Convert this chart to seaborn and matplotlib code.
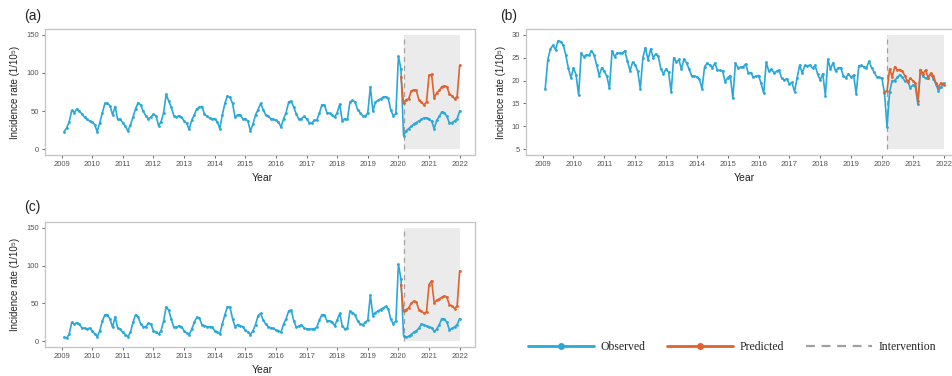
import numpy as np
import pandas as pd
import matplotlib
matplotlib.use("Agg")
import matplotlib.pyplot as plt
from matplotlib.lines import Line2D
import seaborn as sns

# ------------------------------------------------------
# DATA (monthly, Jan 2009 - Dec 2021)
years = list(range(2009, 2022))
months = [y + m / 12 for y in years for m in range(1, 13)]
pred_start = 2020  # predicted series starts in Jan 2020
intervention = 2020 + 2 / 12
xtick_years = list(range(2009, 2023))

obs_a = [23, 28, 36, 51, 48, 53, 50, 46, 42, 39, 37, 36,
         32, 23, 35, 48, 60, 60, 57, 45, 56, 39, 39, 35,
         30, 24, 32, 42, 53, 61, 58, 50, 44, 40, 42, 46,
         44, 31, 36, 48, 72, 63, 55, 44, 42, 44, 42, 37,
         34, 26, 38, 45, 53, 55, 56, 46, 43, 41, 40, 40,
         36, 27, 45, 60, 70, 68, 60, 42, 45, 45, 40, 40,
         37, 24, 33, 45, 52, 60, 52, 45, 43, 40, 39, 38,
         36, 29, 40, 48, 62, 63, 55, 46, 39, 40, 43, 40,
         35, 34, 38, 38, 47, 58, 58, 48, 47, 45, 42, 48,
         59, 37, 40, 39, 62, 64, 62, 52, 48, 44, 43, 48,
         82, 50, 62, 64, 66, 68, 69, 67, 51, 44, 47, 122,
         105, 18, 24, 27, 30, 33, 35, 37, 39, 41, 41, 39,
         37, 27, 38, 43, 49, 48, 43, 34, 35, 37, 40, 50]
pred_a = [95, 60, 65, 66, 76, 78, 77, 65, 62, 58, 62, 97,
          98, 67, 74, 77, 82, 83, 82, 72, 70, 66, 69, 110]

obs_b = [18.2, 24.5, 26.9, 27.7, 26.7, 28.7, 28.5, 27.8, 25.6, 22.7, 20.6, 22.8,
         21.2, 16.8, 26.0, 25.2, 25.6, 25.5, 26.5, 25.6, 23.4, 21.1, 22.8, 22.0,
         20.9, 18.3, 26.5, 25.2, 26.0, 26.0, 26.0, 26.5, 24.2, 22.1, 24.0, 23.4,
         22.0, 18.2, 25.0, 27.2, 24.5, 26.9, 25.0, 25.8, 25.3, 22.5, 21.5, 22.5,
         21.8, 17.5, 25.0, 24.0, 24.6, 22.5, 24.7, 23.8, 22.5, 21.0, 21.0, 20.8,
         20.3, 18.2, 23.0, 23.8, 23.4, 22.8, 23.8, 22.3, 22.2, 22.1, 19.7, 20.6,
         21.1, 16.1, 23.8, 22.8, 22.9, 23.0, 23.6, 21.7, 21.7, 20.7, 20.9, 21.1,
         19.4, 17.2, 24.0, 22.0, 22.5, 21.7, 22.0, 22.3, 20.5, 20.1, 20.4, 19.2,
         19.6, 17.6, 20.5, 23.4, 21.6, 23.3, 23.1, 23.4, 22.7, 23.3, 21.4, 20.1,
         21.5, 16.7, 24.6, 22.5, 23.9, 22.0, 22.8, 22.8, 21.0, 20.6, 21.5, 20.7,
         21.2, 17.1, 23.2, 23.3, 23.0, 22.8, 24.2, 22.8, 21.8, 20.8, 20.7, 20.5,
         17.3, 9.9, 17.5, 20.0, 20.0, 20.7, 21.3, 20.7, 19.8, 20.0, 18.4, 19.0,
         18.8, 14.8, 22.3, 20.9, 20.5, 20.6, 21.4, 20.4, 19.2, 17.8, 18.6, 19.4]
pred_b = [17.5, 17.8, 22.5, 20.8, 23.0, 22.3, 22.4, 22.0, 21.0, 19.6, 20.5, 20.0,
          19.4, 15.6, 22.4, 21.5, 22.3, 20.6, 21.6, 21.1, 19.5, 18.6, 19.5, 19.0]

obs_c = [5.3, 4.4, 9.6, 25, 22.8, 24.6, 22.8, 17.5, 17.5, 16.2, 17.5, 14,
         9.6, 6.1, 14, 27, 35, 35, 29.4, 18.4, 32.5, 17.5, 16.2, 11.8,
         8.8, 6.1, 11.8, 25, 35, 32.5, 22.8, 19.3, 19.3, 23.7, 22.8, 14,
         12, 9.6, 14, 27, 45.6, 41, 29, 18.4, 18.4, 20.6, 19.3, 14,
         11, 8.8, 16, 25, 31.6, 30.7, 22, 20.6, 19.3, 19.3, 19, 14,
         12, 9.6, 22.8, 35, 45.6, 44.7, 30, 19.3, 22, 20.6, 19.3, 15,
         12, 8.8, 14, 22, 33.8, 36.8, 28, 22.8, 19.3, 17.5, 17, 15,
         14, 11.8, 22.8, 30, 40, 41, 27, 18.4, 20, 22, 17.5, 16.5,
         16.2, 16, 16.5, 18.4, 28, 35, 35, 27, 27, 25, 20.6, 28,
         36.8, 20.6, 16.2, 17.5, 40, 38, 35, 27, 22.8, 22, 25, 28,
         61, 34, 38, 40, 42, 44, 46, 43, 29, 23, 27, 101.7,
         82, 7.5, 5.5, 6.5, 9, 12, 14, 17, 22.8, 22, 20, 19,
         18, 13, 16, 22, 30, 29, 25, 15, 17, 19, 22, 30]
pred_c = [75, 40, 42, 44, 50, 53, 52, 42, 40, 37, 39, 75,
          80, 51, 54, 56, 58, 60, 58, 48, 47, 43, 47, 93]

# ------------------------------------------------------
BLUE = "#2aa8d8"
ORANGE = "#e0622e"
GREY_LINE = "#a0a0a0"
SHADE = "#ebebeb"
FRAME = "#c4c4c4"

sns.set_theme(style="white")
plt.rcParams["font.family"] = ["Liberation Sans", "DejaVu Sans"]

W, H = 953, 376
fig = plt.figure(figsize=(W / 100, H / 100), dpi=100)


def add_ax(left, top, right, bottom):
    return fig.add_axes([left / W, 1 - bottom / H, (right - left) / W, (bottom - top) / H])


def draw_panel(ax, obs, pred, ylo, yhi, yticks, tag, ylab_x):
    df_obs = pd.DataFrame({"x": months, "y": obs})
    i0 = months.index(pred_start + 1 / 12)
    df_pred = pd.DataFrame({"x": months[i0:], "y": pred})

    ax.fill_between([intervention, months[-1]], ylo, yhi, color=SHADE, lw=0, zorder=0)
    ax.vlines(intervention, ylo, yhi, colors=GREY_LINE, linestyles=(0, (4, 3)), lw=0.9, zorder=1)
    sns.lineplot(data=df_obs, x="x", y="y", ax=ax, color=BLUE, lw=1.2, marker="o",
                 markersize=2, markeredgewidth=0, zorder=3)
    sns.lineplot(data=df_pred, x="x", y="y", ax=ax, color=ORANGE, lw=1.2, marker="o",
                 markersize=2, markeredgewidth=0, zorder=4)

    pad = (yhi - ylo) * 0.05
    ax.set_ylim(ylo - pad, yhi + pad)
    ax.set_xlim(2008.46, 2022.5)
    ax.set_xticks(xtick_years)
    ax.set_xticklabels([str(y) for y in xtick_years])
    ax.set_yticks(yticks)
    ax.tick_params(axis="both", labelsize=5.5, labelcolor="#555555", colors="#555555",
                   length=2.5, width=0.6, pad=2, bottom=True, left=True)
    for s in ax.spines.values():
        s.set_color(FRAME)
        s.set_linewidth(0.9)

    ax.set_xlabel("Year", fontsize=7.5, color="#222222")
    ax.set_ylabel("Incidence rate (1/10\u2075)", fontsize=7, color="#222222")
    ax.xaxis.label.set_va("center")
    ax.yaxis.label.set_va("center")
    ax.xaxis.set_label_coords(0.505, -23 / 126)
    ax.yaxis.set_label_coords(ylab_x, 0.5)
    ax.text(tag[1], tag[2], tag[0], transform=fig.transFigure, fontsize=10,
            ha="left", va="center", color="#222222")


ax_a = add_ax(45, 29, 475, 155)
draw_panel(ax_a, obs_a, pred_a, 0, 150, [0, 50, 100, 150],
           ("(a)", 24 / W, 1 - 16 / H), -30 / 430)

# panel (b) runs past the right edge of the figure, as in the original
ax_b = add_ax(526, 29, 526 + 433, 155)
draw_panel(ax_b, obs_b, pred_b, 5, 30, [5, 10, 15, 20, 25, 30],
           ("(b)", 500 / W, 1 - 16 / H), -25 / 433)

ax_c = add_ax(45, 222, 475, 347)
draw_panel(ax_c, obs_c, pred_c, 0, 150, [0, 50, 100, 150],
           ("(c)", 24 / W, 1 - 207 / H), -30 / 430)

# ------------------------------------------------------
# LEGEND
handles = [
    Line2D([], [], color=BLUE, lw=2, marker="o", markersize=4),
    Line2D([], [], color=ORANGE, lw=2, marker="o", markersize=4),
    Line2D([], [], color=GREY_LINE, lw=1.6, linestyle=(0, (4, 3))),
]
fig.legend(handles, ["Observed", "Predicted", "Intervention"], loc="center left",
           bbox_to_anchor=(528 / W, 1 - 347 / H), ncol=3, frameon=False,
           prop={"family": "Liberation Serif", "size": 8.5}, handlelength=5.6,
           handletextpad=0.5, columnspacing=1.9, borderaxespad=0, borderpad=0,
           numpoints=1)

fig.savefig("out.png", dpi=100)
